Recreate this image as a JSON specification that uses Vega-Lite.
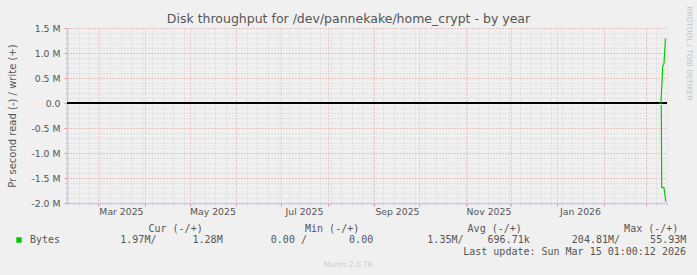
{
  "$schema": "https://vega.github.io/schema/vega-lite/v6.json",
  "width": 600,
  "height": 175,
  "autosize": {"type": "none"},
  "padding": {"left": 67, "top": 28, "right": 30, "bottom": 72},
  "background": "#f0f0f0",
  "config": {
    "view": {"stroke": null},
    "font": "DejaVu Sans",
    "axis": {"labelFont": "DejaVu Sans", "titleFont": "DejaVu Sans", "labelColor": "#555555", "titleColor": "#555555", "titleFontWeight": "normal"}
  },
  "title": {
    "text": "Munin 2.0.76",
    "orient": "bottom",
    "anchor": "middle",
    "frame": "group",
    "dx": -19,
    "offset": 4,
    "fontSize": 7.5,
    "fontWeight": "normal",
    "font": "DejaVu Sans",
    "color": "#cccccc"
  },
  "data": {
    "values": [
      {"t": "2026-03-10T00:00:00", "v": 0, "dir": "write"},
      {"t": "2026-03-11T00:00:00", "v": 0, "dir": "write"},
      {"t": "2026-03-12T06:00:00", "v": 750000, "dir": "write"},
      {"t": "2026-03-13T00:00:00", "v": 780000, "dir": "write"},
      {"t": "2026-03-14T00:00:00", "v": 1280000, "dir": "write"},
      {"t": "2026-03-14T12:00:00", "v": 1280000, "dir": "write"},
      {"t": "2026-03-10T18:00:00", "v": -50000, "dir": "read"},
      {"t": "2026-03-11T06:00:00", "v": -50000, "dir": "read"},
      {"t": "2026-03-11T12:00:00", "v": -1690000, "dir": "read"},
      {"t": "2026-03-13T00:00:00", "v": -1690000, "dir": "read"},
      {"t": "2026-03-14T06:00:00", "v": -1970000, "dir": "read"}
    ]
  },
  "resolve": {"axis": {"x": "independent", "y": "independent"}},
  "layer": [
    {
      "mark": {"type": "line", "strokeOpacity": 0},
      "encoding": {
        "x": {
          "field": "t", "type": "temporal",
          "scale": {"domain": [{"year": 2025, "month": 2, "date": 8, "hours": 1}, {"year": 2026, "month": 3, "date": 15, "hours": 1}], "nice": false},
          "axis": {"orient": "bottom", "grid": true, "gridColor": "#d2d2d2", "gridDash": [1, 2], "gridWidth": 1,
                   "tickCount": {"interval": "week", "step": 1}, "labels": false, "ticks": true, "tickColor": "#c8c8c8", "tickSize": 2,
                   "domain": false, "title": null}
        },
        "y": {
          "field": "v", "type": "quantitative",
          "scale": {"domain": [-2000000, 1500000], "nice": false, "zero": false},
          "axis": {"orient": "left", "grid": true, "gridColor": "#d2d2d2", "gridDash": [1, 2], "gridWidth": 1,
                   "values": [-2000000, -1900000, -1800000, -1700000, -1600000, -1500000, -1400000, -1300000, -1200000, -1100000, -1000000, -900000, -800000, -700000, -600000, -500000, -400000, -300000, -200000, -100000, 0, 100000, 200000, 300000, 400000, 500000, 600000, 700000, 800000, 900000, 1000000, 1100000, 1200000, 1300000, 1400000, 1500000],
                   "labels": false, "ticks": true, "tickColor": "#c8c8c8", "tickSize": 2, "domain": false, "title": null}
        },
        "detail": {"field": "dir"}
      }
    },
    {
      "mark": {"type": "line", "strokeOpacity": 0},
      "encoding": {
        "x": {
          "field": "t", "type": "temporal",
          "scale": {"domain": [{"year": 2025, "month": 2, "date": 8, "hours": 1}, {"year": 2026, "month": 3, "date": 15, "hours": 1}], "nice": false},
          "axis": {"orient": "bottom", "grid": true, "gridColor": "#e8a4a4", "gridDash": [1, 2], "gridWidth": 1,
                   "tickCount": {"interval": "month", "step": 1}, "labels": false, "ticks": true, "tickColor": "#e89090", "tickSize": 3,
                   "domain": false, "title": null}
        },
        "y": {
          "field": "v", "type": "quantitative",
          "scale": {"domain": [-2000000, 1500000], "nice": false, "zero": false},
          "axis": {"orient": "left", "grid": true, "gridColor": "#e8a4a4", "gridDash": [1, 2], "gridWidth": 1,
                   "values": [-2000000, -1500000, -1000000, -500000, 0, 500000, 1000000, 1500000],
                   "labelExpr": "datum.value == 0 ? '0.0' : (datum.value < 0 ? '-' : '') + format(abs(datum.value) / 1000000, '.1f') + ' M'",
                   "labelFontSize": 9.3, "labelPadding": 4, "ticks": true, "tickColor": "#e89090", "tickSize": 3, "domain": false,
                   "title": "Pr second read (-) / write (+)", "titleFontSize": 10, "titleAngle": -90, "titleX": -55, "titleY": 87.5,
                   "titleAlign": "center", "titleBaseline": "middle"}
        },
        "detail": {"field": "dir"}
      }
    },
    {
      "mark": {"type": "rule", "color": "#000000", "strokeWidth": 1},
      "encoding": {
        "x": {
          "datum": {"year": 2025, "month": 2, "date": 8, "hours": 1}, "type": "temporal",
          "scale": {"domain": [{"year": 2025, "month": 2, "date": 8, "hours": 1}, {"year": 2026, "month": 3, "date": 15, "hours": 1}], "nice": false},
          "axis": {"orient": "top", "grid": false, "labels": false, "ticks": false, "domain": false,
                   "title": "Disk throughput for /dev/pannekake/home_crypt - by year", "titleFontSize": 12.5, "titleColor": "#555555",
                   "titleX": 281, "titleY": -6, "titleAlign": "center", "titleBaseline": "alphabetic"}
        },
        "x2": {"datum": {"year": 2026, "month": 3, "date": 15, "hours": 1}},
        "y": {
          "datum": 0, "type": "quantitative",
          "scale": {"domain": [-2000000, 1500000], "nice": false, "zero": false},
          "axis": {"orient": "right", "grid": false, "labels": false, "ticks": false, "domain": false,
                   "title": "RRDTOOL / TOBI OETIKER", "titleFontSize": 7.3, "titleColor": "#c4c4c4", "titleAngle": 90,
                   "titleX": 21, "titleY": 25, "titleAlign": "center", "titleBaseline": "middle"}
        }
      }
    },
    {
      "mark": {"type": "line", "strokeWidth": 1.2},
      "encoding": {
        "x": {
          "field": "t", "type": "temporal",
          "scale": {"domain": [{"year": 2025, "month": 2, "date": 8, "hours": 1}, {"year": 2026, "month": 3, "date": 15, "hours": 1}], "nice": false},
          "axis": {"orient": "bottom", "grid": false, "ticks": false, "domain": true, "domainColor": "#c8c8f4", "domainWidth": 1.5,
                   "values": [{"year": 2025, "month": 3, "date": 16}, {"year": 2025, "month": 5, "date": 16}, {"year": 2025, "month": 7, "date": 16}, {"year": 2025, "month": 9, "date": 16}, {"year": 2025, "month": 11, "date": 16}, {"year": 2026, "month": 1, "date": 16}],
                   "format": "%b %Y", "labelFontSize": 9.3, "labelPadding": 4, "labelFlush": false, "labelOverlap": false,
                   "title": "Cur\u00a0(-/+)\u00a0\u00a0\u00a0\u00a0\u00a0\u00a0\u00a0\u00a0\u00a0\u00a0\u00a0\u00a0\u00a0\u00a0\u00a0\u00a0\u00a0Min\u00a0(-/+)\u00a0\u00a0\u00a0\u00a0\u00a0\u00a0\u00a0\u00a0\u00a0\u00a0\u00a0\u00a0\u00a0\u00a0\u00a0\u00a0\u00a0\u00a0Avg\u00a0(-/+)\u00a0\u00a0\u00a0\u00a0\u00a0\u00a0\u00a0\u00a0\u00a0\u00a0\u00a0\u00a0\u00a0\u00a0\u00a0\u00a0\u00a0Max\u00a0(-/+)",
                   "titleFont": "DejaVu Sans Mono", "titleFontSize": 10, "titleColor": "#555555",
                   "titleX": 81, "titleY": 28.5, "titleAlign": "left", "titleBaseline": "alphabetic"}
        },
        "y": {
          "field": "v", "type": "quantitative",
          "scale": {"domain": [-2000000, 1500000], "nice": false, "zero": false},
          "axis": {"orient": "left", "grid": false, "labels": false, "ticks": false, "domain": true, "domainColor": "#c8c8f4", "domainWidth": 1.5, "title": null}
        },
        "detail": {"field": "dir"},
        "color": {
          "datum": "Bytes",
          "scale": {"range": ["#00cc00"]},
          "legend": {
            "orient": "none", "legendX": -53, "legendY": 207,
            "direction": "vertical",
            "symbolType": "square", "symbolSize": 30, "symbolFillColor": "#00cc00", "symbolStrokeColor": "#00cc00", "symbolStrokeWidth": 0,
            "labelFont": "DejaVu Sans Mono", "labelFontSize": 10, "labelColor": "#555555", "labelLimit": 0, "labelOffset": 6,
            "labelExpr": "'Bytes\u00a0\u00a0\u00a0\u00a0\u00a0\u00a0\u00a0\u00a0\u00a0\u00a01.97M/\u00a0\u00a0\u00a0\u00a0\u00a0\u00a01.28M\u00a0\u00a0\u00a0\u00a0\u00a0\u00a0\u00a0\u00a00.00\u00a0/\u00a0\u00a0\u00a0\u00a0\u00a0\u00a0\u00a00.00\u00a0\u00a0\u00a0\u00a0\u00a0\u00a0\u00a0\u00a0\u00a01.35M/\u00a0\u00a0\u00a0\u00a0696.71k\u00a0\u00a0\u00a0\u00a0\u00a0\u00a0\u00a0204.81M/\u00a0\u00a0\u00a0\u00a0\u00a055.93M'",
            "title": "Last\u00a0update:\u00a0Sun\u00a0Mar\u00a015\u00a001:00:12\u00a02026",
            "titleLimit": 0,
            "titleOrient": "bottom", "titleAnchor": "end", "titleFont": "DejaVu Sans Mono", "titleFontSize": 10,
            "titleFontWeight": "normal", "titleColor": "#555555", "titlePadding": 2
          }
        }
      }
    }
  ]
}
